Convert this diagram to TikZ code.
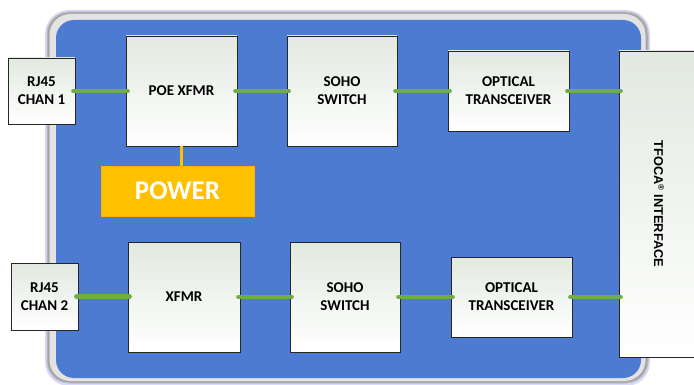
\documentclass[tikz,border=0pt]{standalone}
\usepackage{fontspec}
\setmainfont{Carlito}
\newfontfamily\arialfont{Liberation Sans}
\definecolor{panelblue}{RGB}{77,123,209}
\definecolor{linkgreen}{RGB}{112,173,71}
\definecolor{powergold}{RGB}{255,192,0}
\definecolor{boxtop}{RGB}{226,233,224}
\begin{document}
\begin{tikzpicture}[x=1pt,y=-1pt,
  blockbox/.style={draw=black!85,line width=0.8pt,top color=boxtop,bottom color=white,
    font=\fontsize{15}{18}\selectfont\bfseries,align=center,inner sep=0pt,text=black},
  link/.style={draw=linkgreen,line width=4.5pt,line cap=round},
  pwrlink/.style={draw=powergold,line width=2.2pt}]
\useasboundingbox (0,0) rectangle (694,385);
\clip (0,0) rectangle (694,385);
% panel
\fill[blue!15!white,rounded corners=24pt] (45,10) rectangle (650,386);
\draw[line width=1pt,draw=gray!50,fill=gray!70,rounded corners=22pt] (47,12) rectangle (648,383);
\fill[gray!22,rounded corners=21pt] (49.5,14) rectangle (645.5,381);
\fill[panelblue,rounded corners=18pt] (56,20) rectangle (641,378);
% nodes
\node[blockbox,minimum width=67pt,minimum height=66pt] (r1) at (41.5,91) {RJ45\\CHAN 1};
\node[blockbox,minimum width=111pt,minimum height=110pt] (poe) at (181.5,91) {POE XFMR};
\node[blockbox,minimum width=110pt,minimum height=110pt] (sw1) at (342,91) {SOHO\\SWITCH};
\node[blockbox,minimum width=121pt,minimum height=80pt] (op1) at (508.5,91) {OPTICAL\\TRANSCEIVER};
\node[draw=powergold!80!orange,line width=0.8pt,fill=powergold,minimum width=153pt,minimum height=50pt,
  text=white,font=\fontsize{27}{30}\selectfont\bfseries,inner sep=0pt] (pwr) at (177.5,191) {POWER};
\node[blockbox,minimum width=82pt,minimum height=306pt] (tf) at (660,204) {};
\node[rotate=-90,font=\arialfont\fontsize{12.8}{14}\selectfont\bfseries,text=black] (tftext) at (659,204)
  {TFOCA\textsuperscript{\fontsize{8}{8}\selectfont ®} INTERFACE};
\node[blockbox,minimum width=67pt,minimum height=67pt] (r2) at (44.5,296.5) {RJ45\\CHAN 2};
\node[blockbox,minimum width=112pt,minimum height=110pt] (xf) at (184,297) {XFMR};
\node[blockbox,minimum width=110pt,minimum height=110pt] (sw2) at (345,297) {SOHO\\SWITCH};
\node[blockbox,minimum width=121pt,minimum height=80pt] (op2) at (511.5,297) {OPTICAL\\TRANSCEIVER};
% connectors
\draw[link] ([xshift=-2pt]r1.east) -- ([xshift=2pt]poe.west);
\draw[link] ([xshift=-2pt]poe.east) -- ([xshift=2pt]sw1.west);
\draw[link] ([xshift=-2pt]sw1.east) -- ([xshift=2pt]op1.west);
\draw[link] ([xshift=-2pt]op1.east) -- ([xshift=2pt]op1.east -| tf.west);
\draw[link] ([xshift=-2pt]r2.east) -- ([xshift=2pt]r2.east -| xf.west);
\draw[link] ([xshift=-2pt]xf.east) -- ([xshift=2pt]sw2.west);
\draw[link] ([xshift=-2pt]sw2.east) -- ([xshift=2pt]op2.west);
\draw[link] ([xshift=-2pt]op2.east) -- ([xshift=2pt]op2.east -| tf.west);
\draw[pwrlink] (poe.south) -- (poe.south |- pwr.north);
\end{tikzpicture}
\end{document}
